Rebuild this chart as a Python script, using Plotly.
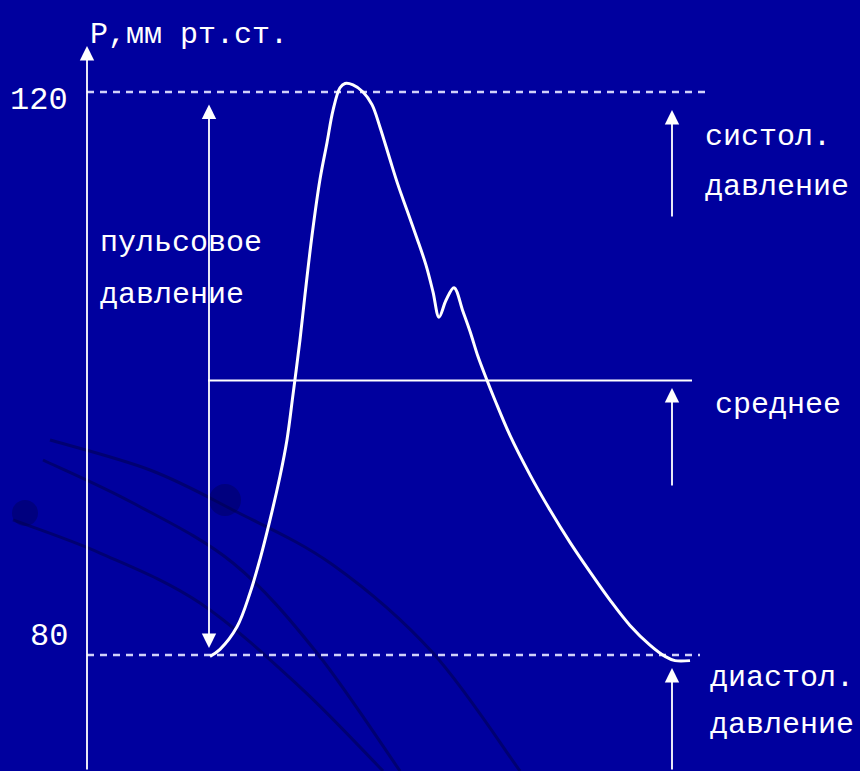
import plotly.graph_objects as go

# --- data (time in arbitrary units, pressure in mmHg) ---
t = [210, 220, 237, 250, 260, 270, 280, 287, 293, 300, 305, 312, 320, 327, 333,
     340, 345, 353, 363, 372, 380, 390, 398, 407, 417, 426, 433, 439, 446, 454,
     463, 470, 478, 486, 495, 510, 530, 550, 570, 590, 610, 630, 650, 665, 675, 690]
p = [79.9, 80.4, 82.0, 84.4, 86.8, 89.6, 92.7, 95.3, 98.5, 102.4, 105.6, 109.8,
     113.8, 116.4, 118.7, 120.3, 120.6, 120.5, 120.0, 119.1, 117.5, 115.2, 113.4,
     111.6, 109.6, 107.7, 105.8, 104.0, 105.2, 106.1, 104.4, 103.0, 101.2, 99.7,
     98.1, 95.6, 92.8, 90.3, 88.0, 85.9, 83.9, 82.1, 80.7, 79.9, 79.6, 79.6]

systolic = 120
diastolic = 80
mean_p = 99.5
mean_t = [208, 692]
y_ticks = [120, 80]
y_tick_labels = ["120", "80"]

BG = "#00009e"
FG = "white"
FONT = "Liberation Mono"
W, H = 860, 771

fig = go.Figure()

# dashed reference lines
fig.add_trace(go.Scatter(x=[87, 705], y=[systolic, systolic], mode="lines",
                         line=dict(color="rgba(220,220,255,0.95)", width=2.5, dash="7px,6px"),
                         hoverinfo="skip"))
fig.add_trace(go.Scatter(x=[87, 700], y=[diastolic, diastolic], mode="lines",
                         line=dict(color="rgba(220,220,255,0.95)", width=2.5, dash="7px,6px"),
                         hoverinfo="skip"))
# mean line
fig.add_trace(go.Scatter(x=mean_t, y=[mean_p, mean_p], mode="lines",
                         line=dict(color=FG, width=2), hoverinfo="skip"))
# pressure curve
fig.add_trace(go.Scatter(x=t, y=p, mode="lines",
                         line=dict(color=FG, width=3, shape="spline", smoothing=1.0),
                         hoverinfo="skip"))

y_top = 120 + 92 / 14.075
y_bot = 80 - 116 / 14.075

def py2y(py):
    return 120 - (py - 92) / 14.075

ann = []
def arrow(x, y0, y1, both=False):
    ann.append(dict(x=x, y=y1, ax=x, ay=y0, xref="x", yref="y", axref="x", ayref="y",
                    showarrow=True, arrowhead=2, arrowsize=1.6, arrowwidth=1.8,
                    arrowcolor=FG, text="", arrowside="end+start" if both else "end",
                    startarrowhead=2, startarrowsize=1.6))

arrow(87, y_bot, py2y(46))
arrow(209, py2y(103), py2y(648), both=True)
arrow(672, py2y(218), py2y(110))
arrow(672, py2y(487), py2y(388))
arrow(672, y_bot, py2y(668))

def txt(s, x, py, xanchor="left", size=30):
    ann.append(dict(text=s, x=x, y=1 - py / H, xref="x", yref="paper",
                    xanchor=xanchor, yanchor="middle", showarrow=False,
                    font=dict(family=FONT, size=size, color=FG)))

txt("Р,мм рт.ст.", 88, 35)
for v, lab in zip(y_ticks, y_tick_labels):
    ann.append(dict(text=lab, x=70, y=v + (-0.6 if v == 120 else 1.3), xref="x", yref="y",
                    xanchor="right", yanchor="middle", showarrow=False,
                    font=dict(family=FONT, size=32, color=FG)))
txt("пульсовое", 98, 243)
txt("давление", 98, 295)
txt("систол.", 703, 137)
txt("давление", 703, 187)
txt("среднее", 713, 405)
txt("диастол.", 708, 678)
txt("давление", 708, 725)

# decorative dark background arcs (background art, pixel-space paths)
def P(x, y):
    return f"{x:.1f},{1 - y / H:.4f}"

def smooth_path(pts):
    # Catmull-Rom -> cubic Bezier
    path = "M " + P(*pts[0])
    n = len(pts)
    for i in range(n - 1):
        p0 = pts[i - 1] if i > 0 else pts[i]
        p1 = pts[i]
        p2 = pts[i + 1]
        p3 = pts[i + 2] if i + 2 < n else pts[i + 1]
        c1 = (p1[0] + (p2[0] - p0[0]) / 6, p1[1] + (p2[1] - p0[1]) / 6)
        c2 = (p2[0] - (p3[0] - p1[0]) / 6, p2[1] - (p3[1] - p1[1]) / 6)
        path += " C " + P(*c1) + " " + P(*c2) + " " + P(*p2)
    return path

arcs = [
    [(13, 520), (100, 553), (200, 603), (300, 687), (383, 771)],
    [(43, 460), (133, 503), (233, 563), (317, 653), (400, 771)],
    [(50, 440), (150, 470), (233, 510), (333, 565), (433, 653), (520, 771)],
]
shapes = []
for a in arcs:
    shapes.append(dict(type="path", path=smooth_path(a), xref="x", yref="paper",
                       layer="below", line=dict(color="rgba(0,0,60,0.45)", width=3)))
for cx, cy, r in [(25, 513, 13), (225, 500, 16)]:
    shapes.append(dict(type="circle", xref="x", yref="paper", layer="below",
                       x0=cx - r, x1=cx + r, y0=1 - (cy + r) / H, y1=1 - (cy - r) / H,
                       fillcolor="rgba(0,0,80,0.4)", line=dict(width=0)))

fig.update_layout(
    width=W, height=H, margin=dict(l=0, r=0, t=0, b=0),
    paper_bgcolor=BG, plot_bgcolor=BG, showlegend=False,
    xaxis=dict(range=[0, W], visible=False, fixedrange=True),
    yaxis=dict(range=[y_bot, y_top], visible=False, fixedrange=True),
    annotations=ann, shapes=shapes,
)

fig.write_html("out.html", config={"displayModeBar": False},
               post_script="document.body.style.margin='0';document.body.style.background='#00009e';")
